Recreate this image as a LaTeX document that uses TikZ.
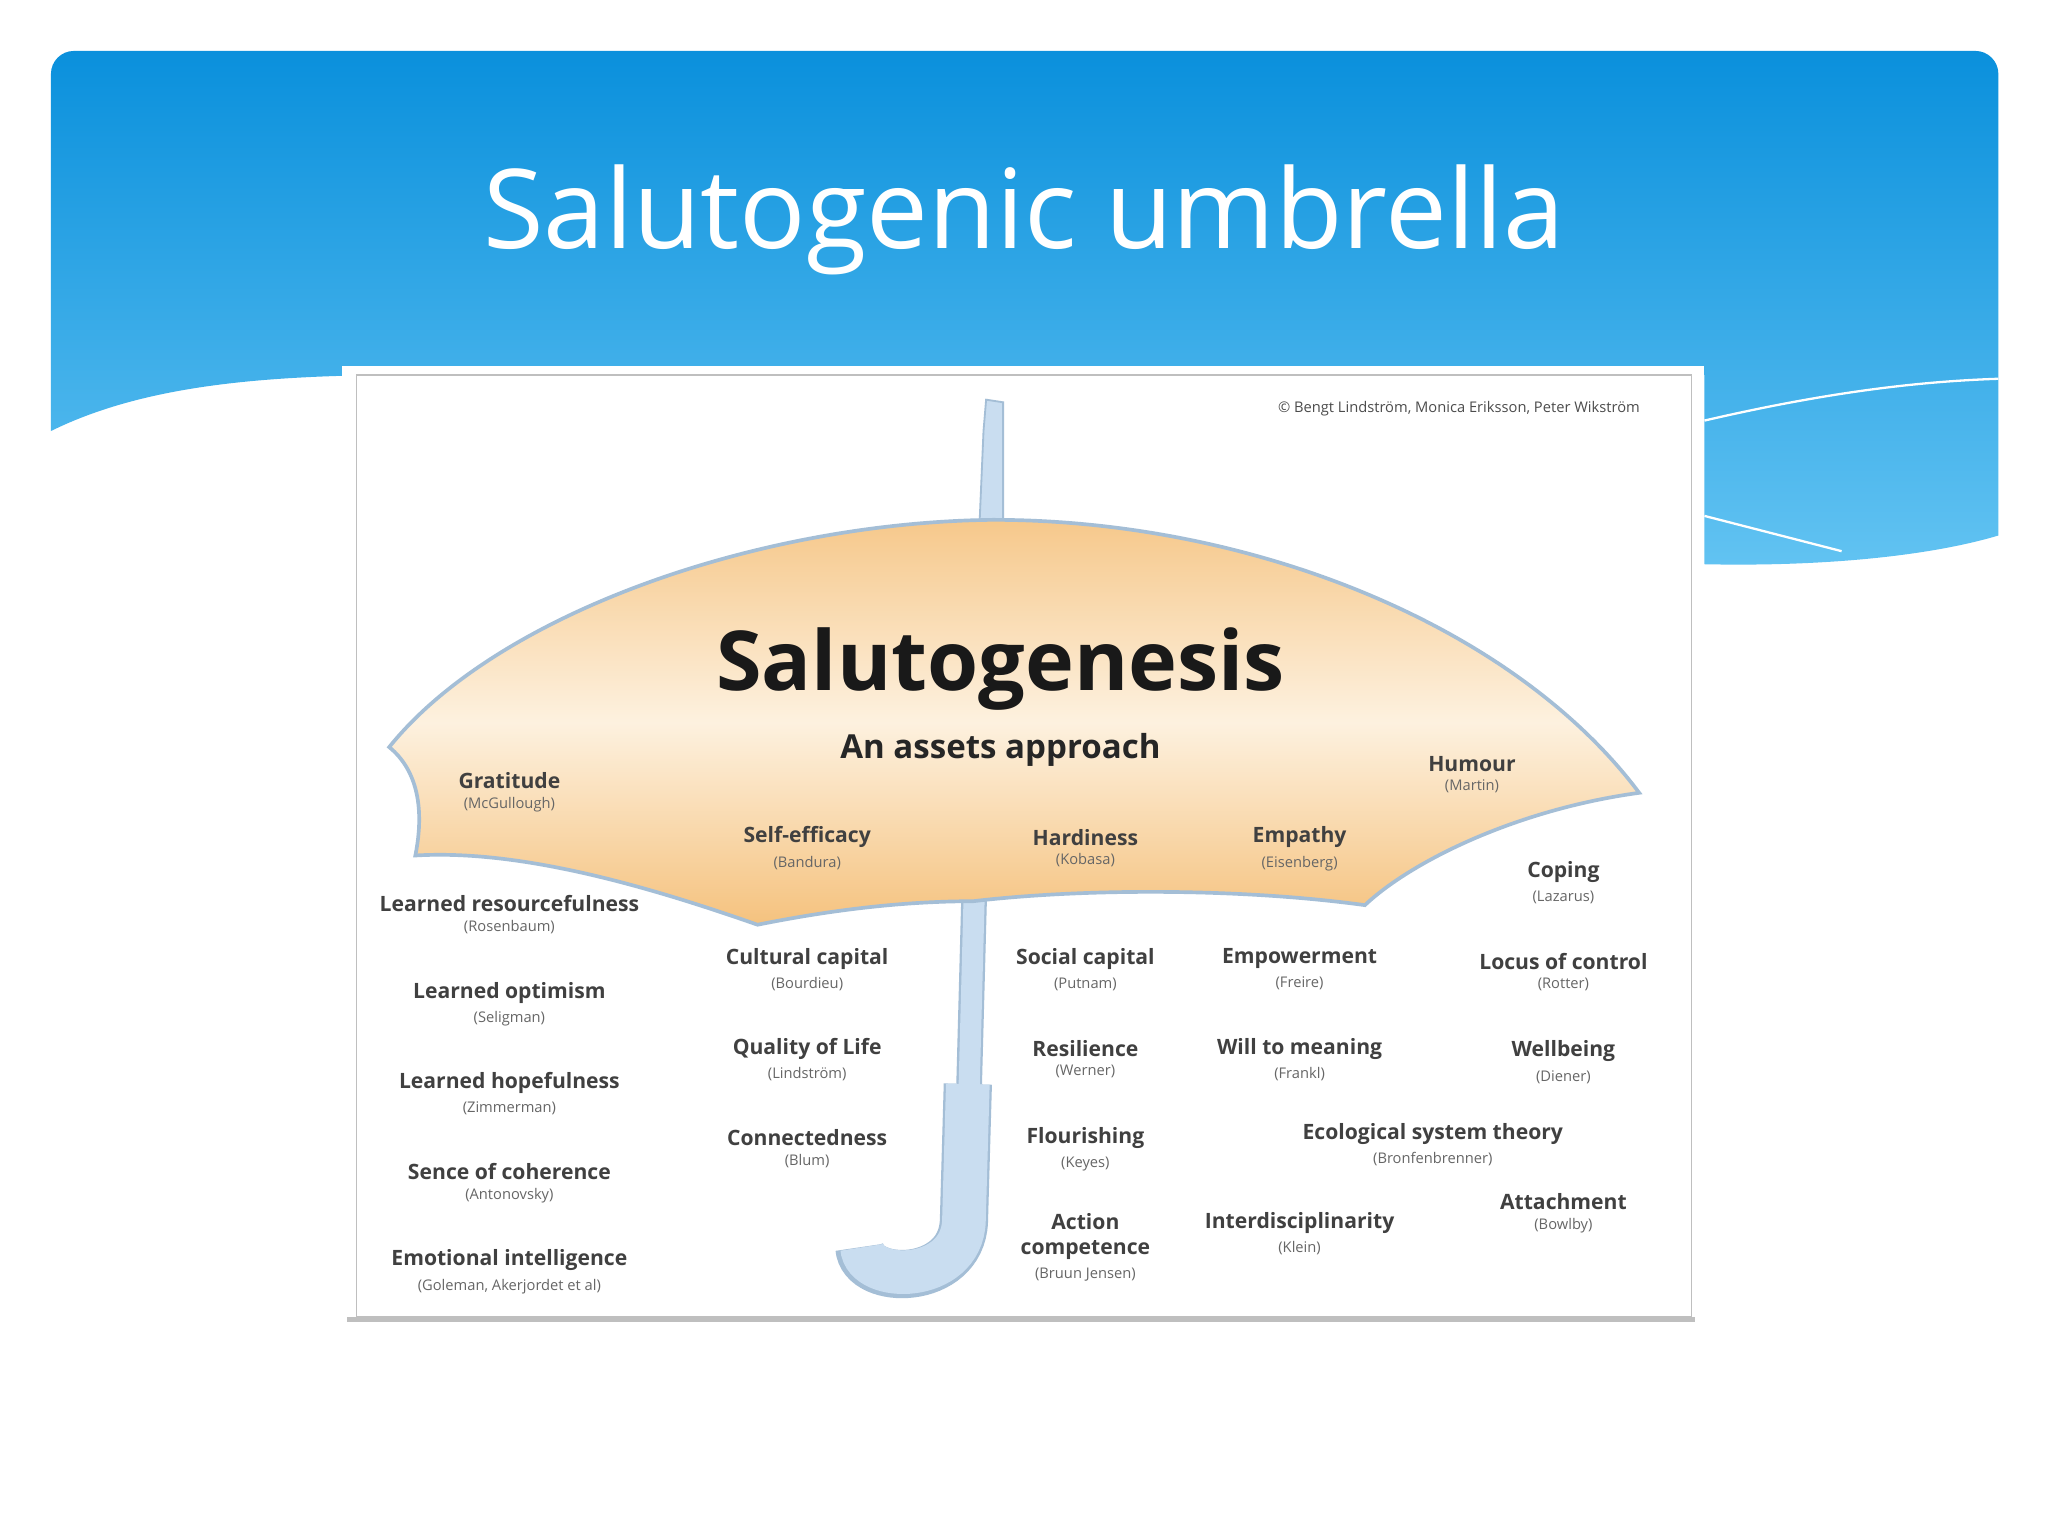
\documentclass[tikz,border=0pt]{standalone}
\usepackage{fontspec}
\setmainfont{Open Sans}
\usetikzlibrary{shadows,positioning}
\definecolor{hdrA}{HTML}{0A90DC}
\definecolor{hdrB}{HTML}{62C3F2}
\definecolor{canO}{HTML}{F5C27E}
\definecolor{canL}{HTML}{FDF1DF}
\definecolor{shaftF}{HTML}{C9DDF0}
\definecolor{shaftD}{HTML}{A4BED6}
\tikzset{
  lab/.style={font=\fontsize{4.6pt}{5.4pt}\selectfont\bfseries, text=black!75, inner sep=0pt, align=center},
  sub/.style={font=\fontsize{3.2pt}{4pt}\selectfont, text=black!60, inner sep=0pt},
}
\newcommand{\asset}[4]{\node[lab] (#1) at (#2) {#3}; \node[sub, below=0.05cm of #1] (#1s) {(#4)};}
\begin{document}
\begin{tikzpicture}[x=0.01cm,y=-0.01cm]
\useasboundingbox (0,0) rectangle (1568,1176);
\fill[white] (0,0) rectangle (1568,1176);
% header
\shade[top color=hdrA, bottom color=hdrB]
  (39,330) .. controls (110,295) and (200,288) .. (300,287) -- (1305,287) -- (1305,432)
  .. controls (1400,434) and (1480,425) .. (1530,410)
  {[rounded corners=5pt] -- (1530,39) -- (39,39)} -- cycle;
\draw[white,line width=0.5pt] (1305,322) .. controls (1400,300) and (1470,292) .. (1530,290);
\draw[white,line width=0.5pt] (1305,395) -- (1410,422);
\node[text=white,font=\fontsize{24pt}{28pt}\selectfont] (title) at (784,168) {Salutogenic umbrella};
% image frame
\fill[black!25] (266,286) rectangle (1298,1012);
\fill[white] (262,280) rectangle (1305,1008);
\draw[black!25] (273,287) rectangle (1295,1008);
% shaft top
\draw[shaftD, fill=shaftF] (755,306) -- (768,308) -- (768,400) -- (750,400) -- (753,330) -- cycle;
% shaft bottom + handle (drawn before canopy)
\draw[shaftD, line width=5.6pt] (746,680) -- (742,830);
\draw[shaftD, line width=10.5pt] (741,830) -- (738,935) .. controls (736,985) and (660,985) .. (658,955);
\draw[shaftF, line width=4.6pt] (746,680) -- (742,832);
\draw[shaftF, line width=9.5pt] (741,830) -- (738,935) .. controls (736,983) and (662,983) .. (660,955);
% canopy
\path[shade, top color=canO!90, bottom color=canO, middle color=canL, draw=shaftD, line width=0.8pt]
  (298,572) .. controls (380,470) and (580,400) .. (760,398)
  .. controls (960,398) and (1160,480) .. (1255,607)
  .. controls (1160,620) and (1080,660) .. (1045,693)
  .. controls (950,680) and (830,680) .. (745,690)
  .. controls (680,690) and (620,700) .. (580,708)
  .. controls (500,680) and (400,650) .. (318,655)
  .. controls (325,620) and (320,590) .. (298,572) -- cycle;
% copyright
\node[sub, text=black!70] (copy) at (1117,313) {© Bengt Lindström, Monica Eriksson, Peter Wikström};
% titles
\node[font=\fontsize{18pt}{22pt}\selectfont\bfseries, text=black!90] (salu) at (766,512) {Salutogenesis};
\node[font=\fontsize{7.2pt}{9pt}\selectfont\bfseries, text=black!85] (aa) at (766,574) {An assets approach};
% assets
\asset{grat}{390,598}{Gratitude}{McGullough}
\asset{self}{618,641}{Self-efficacy}{Bandura}
\asset{hard}{831,641}{Hardiness}{Kobasa}
\asset{emp}{995,641}{Empathy}{Eisenberg}
\asset{hum}{1127,585}{Humour}{Martin}
\asset{cop}{1197,668}{Coping}{Lazarus}
\asset{lres}{390,692}{Learned resourcefulness}{Rosenbaum}
\asset{lopt}{390,760}{Learned optimism}{Seligman}
\asset{lhop}{390,829}{Learned hopefulness}{Zimmerman}
\asset{soc}{390,897}{Sence of coherence}{Antonovsky}
\asset{ei}{390,965}{Emotional intelligence}{Goleman, Akerjordet et al}
\asset{cul}{618,734}{Cultural capital}{Bourdieu}
\asset{qol}{618,803}{Quality of Life}{Lindström}
\asset{con}{618,871}{Connectedness}{Blum}
\asset{scap}{831,734}{Social capital}{Putnam}
\asset{res}{831,803}{Resilience}{Werner}
\asset{flo}{831,871}{Flourishing}{Keyes}
\asset{act}{831,947}{Action\\competence}{Bruun Jensen}
\asset{empw}{995,734}{Empowerment}{Freire}
\asset{will}{995,803}{Will to meaning}{Frankl}
\asset{inter}{995,936}{Interdisciplinarity}{Klein}
\asset{eco}{1097,868}{Ecological system theory}{Bronfenbrenner}
\asset{loc}{1197,736}{Locus of control}{Rotter}
\asset{well}{1197,805}{Wellbeing}{Diener}
\asset{att}{1197,920}{Attachment}{Bowlby}
\end{tikzpicture}
\end{document}
